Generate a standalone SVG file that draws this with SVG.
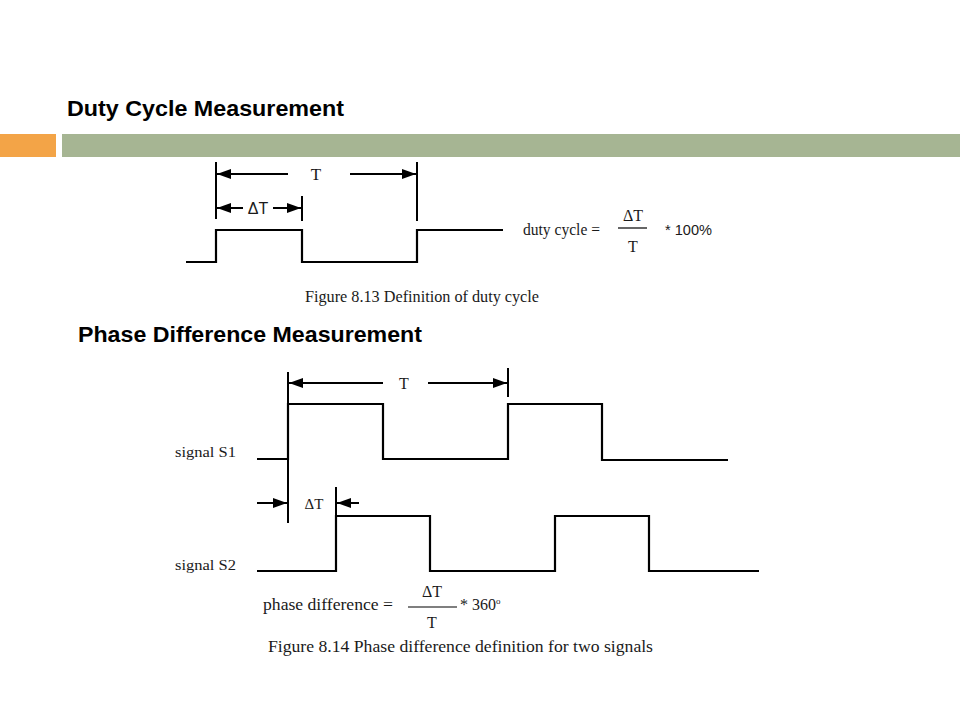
<svg xmlns="http://www.w3.org/2000/svg" width="960" height="720" viewBox="0 0 960 720">
<style>
.title{font-family:"Liberation Sans","DejaVu Sans",sans-serif;font-weight:bold;font-size:22px;fill:#000}
.serif{font-family:"Liberation Serif","DejaVu Serif",serif;fill:#1a1a1a}
.sans{font-family:"Liberation Sans","Open Sans",sans-serif;fill:#1a1a1a}
.wave{fill:none;stroke:#000;stroke-width:2.2;stroke-linejoin:miter}
.ln{stroke:#000;stroke-width:2;fill:none}
.arr{stroke:#000;stroke-width:2;fill:none;marker-end:url(#ah)}
.frac{stroke:#000;stroke-width:1.2}
</style>
<defs>
<marker id="ah" viewBox="0 0 14 10" refX="14" refY="5" markerWidth="14" markerHeight="10" markerUnits="userSpaceOnUse" orient="auto">
<path d="M0,0 L14,5 L0,10 Z" fill="#000"/>
</marker>
</defs>
<rect width="960" height="720" fill="#fff"/>
<g id="header">
<rect x="0" y="134" width="56" height="23" fill="#F3A447"/>
<rect x="62" y="134" width="898" height="23" fill="#A6B593"/>
<text class="title" x="67" y="116" textLength="277" lengthAdjust="spacingAndGlyphs">Duty Cycle Measurement</text>
<text class="title" x="78" y="342" textLength="344" lengthAdjust="spacingAndGlyphs">Phase Difference Measurement</text>
</g>
<g id="duty-figure">
<polyline class="wave" points="186,262 216,262 216,230 302,230 302,262 417,262 417,230 503,230"/>
<line class="ln" x1="216" y1="162" x2="216" y2="219"/>
<line class="ln" x1="302" y1="196" x2="302" y2="221"/>
<line class="ln" x1="417" y1="162" x2="417" y2="221"/>
<line class="arr" x1="288" y1="174" x2="217" y2="174"/>
<line class="arr" x1="350" y1="174" x2="416" y2="174"/>
<text class="serif" x="316" y="180" font-size="17" text-anchor="middle">T</text>
<line class="arr" x1="243" y1="208" x2="217" y2="208"/>
<line class="arr" x1="273" y1="208" x2="301" y2="208"/>
<text class="sans" x="258" y="214" font-size="16" text-anchor="middle">ΔT</text>
<text class="serif" x="305" y="302" font-size="16" textLength="234" lengthAdjust="spacingAndGlyphs">Figure 8.13 Definition of duty cycle</text>
<text class="serif" x="523" y="235" font-size="16" textLength="77" lengthAdjust="spacingAndGlyphs">duty cycle =</text>
<line class="frac" x1="618" y1="228" x2="647" y2="228"/>
<text class="serif" x="633" y="221" font-size="16" text-anchor="middle">ΔT</text>
<text class="serif" x="633" y="252" font-size="16" text-anchor="middle">T</text>
<text class="sans" x="665" y="235" font-size="14" textLength="47" lengthAdjust="spacingAndGlyphs">* 100%</text>
</g>
<g id="phase-figure">
<polyline class="wave" points="257,459 288,459 288,404 383,404 383,459 508,459 508,404 602,404 602,460 728,460"/>
<polyline class="wave" points="257,571 336,571 336,516 430,516 430,571 555,571 555,516 649,516 649,571 759,571"/>
<line class="ln" x1="288" y1="372" x2="288" y2="523"/>
<line class="ln" x1="508" y1="368" x2="508" y2="397"/>
<line class="ln" x1="336" y1="487" x2="336" y2="517"/>
<line class="arr" x1="383" y1="383" x2="289" y2="383"/>
<line class="arr" x1="428" y1="383" x2="507" y2="383"/>
<text class="serif" x="404" y="389" font-size="16" text-anchor="middle">T</text>
<line class="arr" x1="257" y1="503" x2="287" y2="503"/>
<line class="arr" x1="359" y1="503" x2="337" y2="503"/>
<text class="serif" x="314" y="509" font-size="15" text-anchor="middle">ΔT</text>
<text class="serif" x="175" y="457" font-size="15" textLength="61" lengthAdjust="spacingAndGlyphs">signal S1</text>
<text class="serif" x="175" y="570" font-size="15" textLength="61" lengthAdjust="spacingAndGlyphs">signal S2</text>
<text class="serif" x="263" y="610" font-size="16" textLength="130" lengthAdjust="spacingAndGlyphs">phase difference =</text>
<line class="frac" x1="408" y1="607" x2="457" y2="607" stroke-width="2"/>
<text class="serif" x="432" y="597" font-size="16" text-anchor="middle">ΔT</text>
<text class="serif" x="432" y="628" font-size="16" text-anchor="middle">T</text>
<text class="serif" x="460" y="610" font-size="16">* 360<tspan font-size="9" dy="-6">o</tspan></text>
<text class="serif" x="268" y="652" font-size="16" textLength="385" lengthAdjust="spacingAndGlyphs">Figure 8.14 Phase difference definition  for two signals</text>
</g>
</svg>
